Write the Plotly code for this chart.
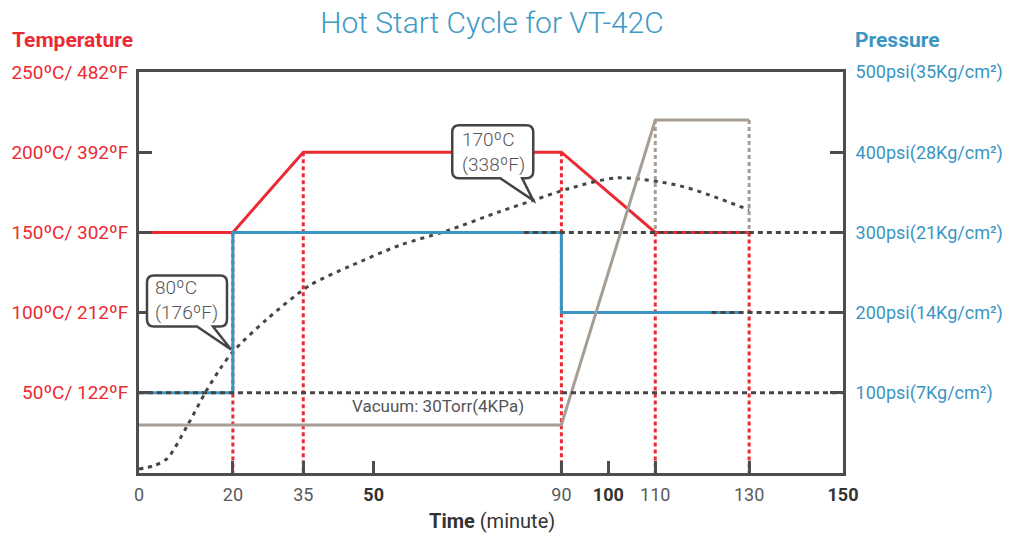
import plotly.graph_objects as go

# ---------------- data ----------------
time_temp = [0, 20, 35, 90, 110, 130]
temp_c = [150, 150, 200, 200, 150, 150]

time_pres = [0, 20, 20, 90, 90, 128]
pres_psi = [100, 100, 300, 300, 200, 200]

time_vac = [0, 90, 110, 130]
vac_psi = [60, 60, 440, 440]

curve_t = [0, 3, 6, 10.2, 14.1, 17.3, 20, 27.3, 36.4, 45, 55.6, 65.6, 76.9, 84, 91.8, 101.9, 115.3, 130]
curve_c = [2.5, 4.4, 9, 29, 50, 65, 75.6, 96, 117, 129, 142, 151, 163, 170, 177.5, 184, 179, 164]

ref_levels_psi = [100, 300, 200]
ref_starts = [0, 82, 122]
ref_end = 150

vline_times = [20, 35, 90, 110, 130]
vline_top_c = [150, 200, 200, 150, 150]

gray_vline_times = [110, 130]
gray_vline_top = 440
gray_vline_bottom = 300

x_ticks = [0, 20, 35, 50, 90, 100, 110, 130, 150]
x_bold = [50, 100, 150]
temp_ticks = [50, 100, 150, 200, 250]
temp_labels = ["50ºC/ 122ºF", "100ºC/ 212ºF", "150ºC/ 302ºF", "200ºC/ 392ºF", "250ºC/ 482ºF"]
pres_ticks = [100, 200, 300, 400, 500]
pres_labels = ["100psi(7Kg/cm²)", "200psi(14Kg/cm²)", "300psi(21Kg/cm²)", "400psi(28Kg/cm²)", "500psi(35Kg/cm²)"]

callout1 = dict(t=19.6, c=77, text="80ºC<br>(176ºF)")
callout2 = dict(t=84, c=170, text="170ºC<br>(338ºF)")

# ---------------- style ----------------
RED = "#ec2a33"
BLUE = "#3a95c3"
GRAY = "#a69d95"
DARK = "#454545"
AXIS = "#4d4d4d"
FONT = "Roboto"

fig = go.Figure()

# red dotted verticals (temperature axis)
vx, vy = [], []
for t, top in zip(vline_times, vline_top_c):
    vx += [t, t, None]
    vy += [top, 0, None]
fig.add_trace(go.Scatter(x=vx, y=vy, mode="lines", yaxis="y",
                         line=dict(color=RED, width=3, dash="4px,3px"), hoverinfo="skip"))

# temperature line
fig.add_trace(go.Scatter(x=time_temp, y=temp_c, mode="lines", yaxis="y",
                         line=dict(color=RED, width=3), hoverinfo="skip"))

# part temperature curve
fig.add_trace(go.Scatter(x=curve_t, y=curve_c, mode="lines", yaxis="y",
                         line=dict(color=DARK, width=3, dash="4px,5px", shape="spline", smoothing=0.8),
                         hoverinfo="skip"))

# pressure line
fig.add_trace(go.Scatter(x=time_pres, y=pres_psi, mode="lines", yaxis="y2",
                         line=dict(color=BLUE, width=3), hoverinfo="skip"))

# vacuum / press line
fig.add_trace(go.Scatter(x=time_vac, y=vac_psi, mode="lines", yaxis="y2",
                         line=dict(color=GRAY, width=3), hoverinfo="skip"))

# gray dotted verticals
gx, gy = [], []
for t in gray_vline_times:
    gx += [t, t, None]
    gy += [gray_vline_top, gray_vline_bottom, None]
fig.add_trace(go.Scatter(x=gx, y=gy, mode="lines", yaxis="y2",
                         line=dict(color=GRAY, width=3, dash="4px,3px"), hoverinfo="skip"))

# black dotted reference lines
hx, hy = [], []
for lvl, st in zip(ref_levels_psi, ref_starts):
    hx += [st, ref_end, None]
    hy += [lvl, lvl, None]
fig.add_trace(go.Scatter(x=hx, y=hy, mode="lines", yaxis="y2",
                         line=dict(color=DARK, width=3, dash="5px,4px"), hoverinfo="skip"))

# ---------------- axes ----------------
x_text = []
for v in x_ticks:
    if v in x_bold:
        x_text.append(f"<b><span style='color:#333333'>{v}</span></b>")
    else:
        x_text.append(f"<span style='color:#5a5a5a'>{v}</span>")

fig.update_layout(
    width=1018, height=533,
    margin=dict(l=139, r=175, t=72, b=60),
    paper_bgcolor="white", plot_bgcolor="white",
    showlegend=False,
    font=dict(family=FONT),
    title=dict(text="Hot Start Cycle for VT-42C", x=492 / 1018, xanchor="center",
               y=1 - 22 / 533, yanchor="middle", yref="container",
               font=dict(family=FONT, size=30, color="#3d9ac6", weight=300)),
    xaxis=dict(range=[0, 150], tickvals=x_ticks, ticktext=x_text,
               showline=True, mirror=True, linewidth=3, linecolor=AXIS,
               ticks="inside", ticklen=12, tickwidth=3, tickcolor=AXIS,
               showgrid=False, zeroline=False,
               tickfont=dict(family=FONT, size=18, color="#5a5a5a"), ticklabelstandoff=3),
    yaxis=dict(range=[0, 250], tickvals=temp_ticks, ticktext=temp_labels,
               showline=True, linewidth=3, linecolor=AXIS,
               ticks="inside", ticklen=13, tickwidth=3, tickcolor=AXIS,
               showgrid=False, zeroline=False,
               tickfont=dict(family=FONT, size=19, color=RED), ticklabelstandoff=4),
    yaxis2=dict(range=[0, 500], tickvals=pres_ticks, ticktext=pres_labels,
                overlaying="y", side="right",
                showline=True, linewidth=3, linecolor=AXIS,
                ticks="inside", ticklen=13, tickwidth=3, tickcolor=AXIS,
                showgrid=False, zeroline=False,
                tickfont=dict(family=FONT, size=18, color=BLUE), ticklabelstandoff=6),
)

# ---------------- callouts ----------------
def bubble_path(left, right, top, bottom, tail_l, tail_r, r=7):
    return (f"M {tail_r},{bottom} L 0,0 L {tail_l},{bottom} H {left + r} "
            f"Q {left},{bottom} {left},{bottom + r} V {top - r} "
            f"Q {left},{top} {left + r},{top} H {right - r} "
            f"Q {right},{top} {right},{top - r} V {bottom + r} "
            f"Q {right},{bottom} {right - r},{bottom} Z")

shapes = [
    dict(type="path", xref="x", yref="y", xsizemode="pixel", ysizemode="pixel",
         xanchor=callout1["t"], yanchor=callout1["c"],
         path=bubble_path(-84, -4, 74, 23, -34, -18),
         fillcolor="white", line=dict(color=DARK, width=2.5), layer="above"),
    dict(type="path", xref="x", yref="y", xsizemode="pixel", ysizemode="pixel",
         xanchor=callout2["t"], yanchor=callout2["c"],
         path=bubble_path(-81, 0, 75, 22, -33, -11),
         fillcolor="white", line=dict(color=DARK, width=2.5), layer="above"),
]
fig.update_layout(shapes=shapes)

annotations = [
    dict(x=callout1["t"], y=callout1["c"], xref="x", yref="y", text=callout1["text"],
         showarrow=False, xshift=-44, yshift=49, align="left",
         font=dict(family=FONT, size=19, color="#555555", weight=300)),
    dict(x=callout2["t"], y=callout2["c"], xref="x", yref="y", text=callout2["text"],
         showarrow=False, xshift=-40, yshift=48, align="left",
         font=dict(family=FONT, size=19, color="#555555", weight=300)),
    dict(x=45, y=84, xref="x", yref="y2", text="Vacuum: 30Torr(4KPa)",
         showarrow=False, xanchor="left", yanchor="middle",
         font=dict(family=FONT, size=17, color="#555555")),
    dict(x=(10 - 139) / 704, y=(473 - 40) / 401, xref="paper", yref="paper",
         text="<b>Temperature</b>", showarrow=False, xanchor="left", yanchor="middle",
         font=dict(family=FONT, size=21, color=RED)),
    dict(x=(853 - 139) / 704, y=(473 - 40) / 401, xref="paper", yref="paper",
         text="<b>Pressure</b>", showarrow=False, xanchor="left", yanchor="middle",
         font=dict(family=FONT, size=21, color=BLUE)),
    dict(x=(492 - 139) / 704, y=(473 - 521) / 401, xref="paper", yref="paper",
         text="<b>Time</b> (minute)", showarrow=False, xanchor="center", yanchor="middle",
         font=dict(family=FONT, size=20, color="#333333")),
]
fig.update_layout(annotations=annotations)

fig.write_html("out.html", config={"displayModeBar": False},
               post_script="document.body.style.margin='0';")
